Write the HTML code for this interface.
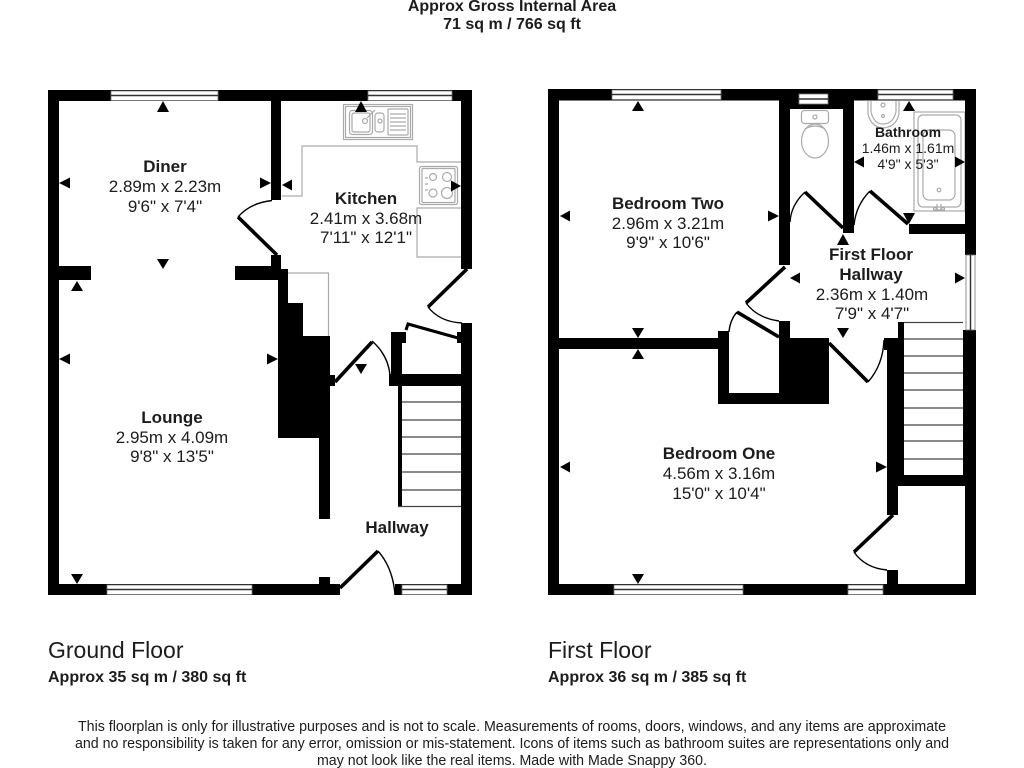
<!DOCTYPE html>
<html><head><meta charset="utf-8"><title>Floorplan</title>
<style>
html,body{margin:0;padding:0;background:#fff}
svg{display:block}
text{font-family:"Liberation Sans",sans-serif;fill:#1c1c1c;text-anchor:middle;font-size:17px}
.b{font-weight:bold}
.s{font-size:14px}
.l{text-anchor:start}
.f{font-size:14.5px}
.fx{fill:none;stroke:#aaa;stroke-width:1.2}
.leaf{stroke:#000;stroke-width:3.6;fill:none}
.arc{stroke:#000;stroke-width:1.4;fill:none}
.tr{stroke:#444;stroke-width:1.3;fill:none}
</style></head><body>
<svg xmlns="http://www.w3.org/2000/svg" width="1024" height="768" viewBox="0 0 1024 768">
<rect width="1024" height="768" fill="#fff"/>

<!-- Ground floor fixtures -->
<g class="fx">
<path d="M282 196H302V146H417V162H461"/>
<path d="M461 208H417V257H461"/>
<path d="M288 273H328.500V336"/>
<rect x="343.500" y="104.500" width="69" height="35"/>
<rect x="345.500" y="106.500" width="65" height="31"/>
<rect x="349.500" y="110.500" width="23" height="24" rx="3"/>
<rect x="352" y="113" width="18" height="19" rx="2"/>
<rect x="375" y="113" width="9" height="19" rx="3"/>
<rect x="388" y="109" width="20" height="26" rx="1"/>
<path d="M390 114H406M390 118H406M390 122H406M390 126H406M390 130H406"/>
<circle cx="365" cy="121" r="2.500"/><circle cx="380" cy="121" r="2"/>
<path d="M367 118L375 110"/>
<rect x="419.500" y="166.500" width="38" height="38" rx="2"/>
<rect x="422" y="168.500" width="33" height="34" rx="1"/>
<circle cx="433" cy="177" r="3.500"/><circle cx="447" cy="177" r="4.500"/>
<circle cx="433" cy="193" r="4"/><circle cx="447" cy="193" r="5.500"/>
<path d="M425 178h3M425 184h3M425 190h3"/>
</g>

<!-- Ground floor walls -->
<g fill="#000">
<rect x="48" y="90" width="424" height="11"/>
<rect x="48" y="90" width="11" height="505"/>
<rect x="461" y="90" width="11" height="179"/>
<rect x="461" y="323" width="11" height="272"/>
<rect x="48" y="584" width="292" height="11"/>
<rect x="395" y="584" width="77" height="11"/>
<rect x="271" y="101" width="10" height="99"/>
<rect x="48" y="266" width="43" height="14"/>
<polygon points="271,255 281,255 281,269 288,269 288,303 303,303 303,336 330,336 330,519 319,519 319,438 278,438 278,280 235,280 235,266 271,266"/>
<rect x="330" y="375" width="5" height="11"/>
<rect x="319" y="577" width="11" height="8"/>
<rect x="391" y="332" width="11" height="44"/>
<rect x="391" y="332" width="15" height="11"/>
<rect x="457" y="332" width="6" height="11"/>
<rect x="389" y="374" width="83" height="12"/>
<rect x="398" y="386" width="4" height="120"/>
</g>
<path class="tr" d="M402 402H461M402 420H461M402 437H461M402 454H461M402 472H461M402 490H461M398 506.500H461"/>

<!-- Ground doors -->
<path class="leaf" d="M277 255L238 217"/><path class="arc" d="M238 217Q250 203 272 200.500"/>
<path class="leaf" d="M467 269L428 307"/><path class="arc" d="M428 307Q440 322 462 323"/>
<path class="leaf" d="M335 382L372 342"/><path class="arc" d="M372 341Q388 355 390 375"/>
<path class="leaf" d="M340 588L378 551"/><path class="arc" d="M378 551Q393 568 395 595"/>
<path class="leaf" style="stroke-width:3" d="M406 330L408 324L458 338"/>

<!-- Ground windows -->
<g fill="#fff" stroke="#777" stroke-width="0.800">
<rect x="111" y="91" width="107" height="9.500"/>
<rect x="368" y="91" width="84" height="9.500"/>
<rect x="107" y="585" width="145" height="9.500"/>
<rect x="402" y="585" width="45" height="9.500"/>
</g>
<g stroke="#333" stroke-width="1.500">
<path d="M111 95.500H218M368 95.500H452M107 589.500H252M402 589.500H447"/>
</g>

<!-- First floor fixtures -->
<g class="fx">
<rect x="801.500" y="110.500" width="27" height="13" rx="3"/>
<circle cx="815" cy="117" r="2"/>
<ellipse cx="815" cy="141" rx="13.500" ry="17"/>
<path d="M805 129Q815 123 825 129"/>
<path d="M868 101V114Q871 127 883 128Q896 127 899 114V101"/>
<path d="M871 101V112Q874 124 883 124Q893 124 896 112V101"/>
<circle cx="883" cy="116" r="1.500"/><circle cx="883" cy="105" r="2"/>
<rect x="914" y="112" width="51" height="99"/>
<rect x="918" y="115" width="43" height="92" rx="5"/>
<rect x="923" y="130" width="32" height="70" rx="6"/>
<circle cx="939" cy="190" r="1.800"/>
<path d="M937 204V211M941 204V211M933 210H945"/>
<circle cx="935" cy="209" r="1.500"/><circle cx="943" cy="209" r="1.500"/>
</g>

<!-- First floor walls -->
<g fill="#000">
<rect x="548" y="89" width="428" height="11.500"/>
<rect x="548" y="89" width="11" height="506"/>
<rect x="965" y="89" width="11" height="166"/>
<rect x="963" y="330" width="13" height="156"/>
<rect x="965" y="486" width="11" height="109"/>
<rect x="548" y="584" width="428" height="11"/>
<rect x="779" y="100" width="11" height="165"/>
<rect x="790" y="100" width="53" height="9"/>
<rect x="843" y="100" width="11" height="133"/>
<rect x="909" y="224" width="67" height="10"/>
<rect x="559" y="338" width="159" height="11"/>
<rect x="718" y="331" width="11" height="73"/>
<rect x="718" y="393" width="111" height="11"/>
<rect x="779" y="338" width="50" height="66"/>
<rect x="779" y="321" width="11" height="17"/>
<rect x="884" y="338" width="20" height="12"/>
<rect x="887" y="338" width="17" height="148"/>
<rect x="898" y="322" width="6" height="30"/>
<rect x="887" y="475" width="89" height="11"/>
<rect x="887" y="486" width="11" height="29"/>
<rect x="887" y="570" width="11" height="15"/>
</g>
<path class="tr" d="M904 322.500H963M904 339H963M904 356H963M904 373H963M904 390H963M904 408H963M904 425H963M904 441H963M904 459H963"/>

<!-- First floor doors -->
<path class="leaf" d="M843 228L805 192"/><path class="arc" d="M805 192Q791 205 790 222"/>
<path class="leaf" d="M908 224L870 191"/><path class="arc" d="M870 191Q856 205 854 225"/>
<path class="leaf" d="M785 267L746 303"/><path class="arc" d="M746 303Q757 318 779 321"/>
<path class="leaf" d="M737 312L779 337"/><path class="arc" d="M737 312Q730 320 729 332"/>
<path class="leaf" d="M829 343L868 382"/><path class="arc" d="M868 382Q883 365 884 340"/>
<path class="leaf" d="M893 515L854 552"/><path class="arc" d="M854 552Q865 568 887 570"/>

<!-- First floor windows -->
<g fill="#fff" stroke="#777" stroke-width="0.800">
<rect x="612" y="90" width="109" height="9.500"/>
<rect x="878" y="90" width="75" height="9.500"/>
<rect x="799" y="94" width="29" height="10"/>
<rect x="614" y="585" width="129" height="9.500"/>
<rect x="848" y="585" width="35" height="9.500"/>
<rect x="966" y="255" width="9" height="75"/>
</g>
<g stroke="#333" stroke-width="1.500">
<path d="M612 94.500H721M878 94.500H953M799 99H828M614 589.500H743M848 589.500H883"/>
<path d="M970.500 255V330"/>
</g>

<!-- Dimension arrows -->
<g fill="#000">
<polygon points="163,101 157,112 169,112"/>
<polygon points="163,269 157,259 169,259"/>
<polygon points="59,183 70,177.500 70,188.500"/>
<polygon points="271,183 260,177.500 260,188.500"/>
<polygon points="282,185 292,179.500 292,190.500"/>
<polygon points="461,186 451,180.500 451,191.500"/>
<polygon points="361,101 355,112 367,112"/>
<polygon points="361,374 355,364 367,364"/>
<polygon points="77,281 71,291 83,291"/>
<polygon points="77,584 71,574 83,574"/>
<polygon points="59,359 70,353.500 70,364.500"/>
<polygon points="278,359 267,353.500 267,364.500"/>

<polygon points="638,101 632,111 644,111"/>
<polygon points="638,338 632,328 644,328"/>
<polygon points="560,216 570,210.500 570,221.500"/>
<polygon points="779,216 768,210.500 768,221.500"/>
<polygon points="638,349 632,359 644,359"/>
<polygon points="638,584 632,574 644,574"/>
<polygon points="560,467 570,461.500 570,472.500"/>
<polygon points="887,467 876,461.500 876,472.500"/>
<polygon points="909,101 903,111 915,111"/>
<polygon points="909,224 903,213 915,213"/>
<polygon points="854,162 864,156.500 864,167.500"/>
<polygon points="965,162 955,156.500 955,167.500"/>
<polygon points="843,234 837,245 849,245"/>
<polygon points="843,338 837,328 849,328"/>
<polygon points="790,278 800,272.500 800,283.500"/>
<polygon points="965,278 955,272.500 955,283.500"/>
</g>

<!-- Room labels -->
<text class="b" x="165" y="172">Diner</text>
<text x="165" y="192">2.89m x 2.23m</text>
<text x="165" y="212">9'6" x 7'4"</text>
<text class="b" x="366" y="204">Kitchen</text>
<text x="366" y="224">2.41m x 3.68m</text>
<text x="366" y="243">7'11" x 12'1"</text>
<text class="b" x="172" y="423">Lounge</text>
<text x="172" y="443">2.95m x 4.09m</text>
<text x="172" y="462">9'8" x 13'5"</text>
<text class="b" x="397" y="533">Hallway</text>

<text class="b" x="668" y="209">Bedroom Two</text>
<text x="668" y="229">2.96m x 3.21m</text>
<text x="668" y="248">9'9" x 10'6"</text>
<text class="b" x="719" y="459">Bedroom One</text>
<text x="719" y="479">4.56m x 3.16m</text>
<text x="719" y="499">15'0" x 10'4"</text>
<text class="b" x="871" y="260">First Floor</text>
<text class="b" x="871" y="280">Hallway</text>
<text x="872" y="300">2.36m x 1.40m</text>
<text x="872" y="319">7'9" x 4'7"</text>
<text class="b s" x="908" y="137">Bathroom</text>
<text class="s" x="908" y="153">1.46m x 1.61m</text>
<text class="s" x="908" y="169">4'9" x 5'3"</text>

<!-- Titles -->
<text class="b" style="font-size:16px" x="512" y="11">Approx Gross Internal Area</text>
<text class="b" style="font-size:16px" x="512" y="29">71 sq m / 766 sq ft</text>

<text class="l" style="font-size:23px" x="48" y="658">Ground Floor</text>
<text class="l b" style="font-size:16px" x="48" y="682">Approx 35 sq m / 380 sq ft</text>
<text class="l" style="font-size:23px" x="548" y="658">First Floor</text>
<text class="l b" style="font-size:16px" x="548" y="682">Approx 36 sq m / 385 sq ft</text>

<!-- Footer -->
<text class="f" x="512" y="731" textLength="868" lengthAdjust="spacingAndGlyphs">This floorplan is only for illustrative purposes and is not to scale. Measurements of rooms, doors, windows, and any items are approximate</text>
<text class="f" x="512" y="748" textLength="874" lengthAdjust="spacingAndGlyphs">and no responsibility is taken for any error, omission or mis-statement. Icons of items such as bathroom suites are representations only and</text>
<text class="f" x="512" y="765" textLength="390" lengthAdjust="spacingAndGlyphs">may not look like the real items. Made with Made Snappy 360.</text>
</svg>
</body></html>
